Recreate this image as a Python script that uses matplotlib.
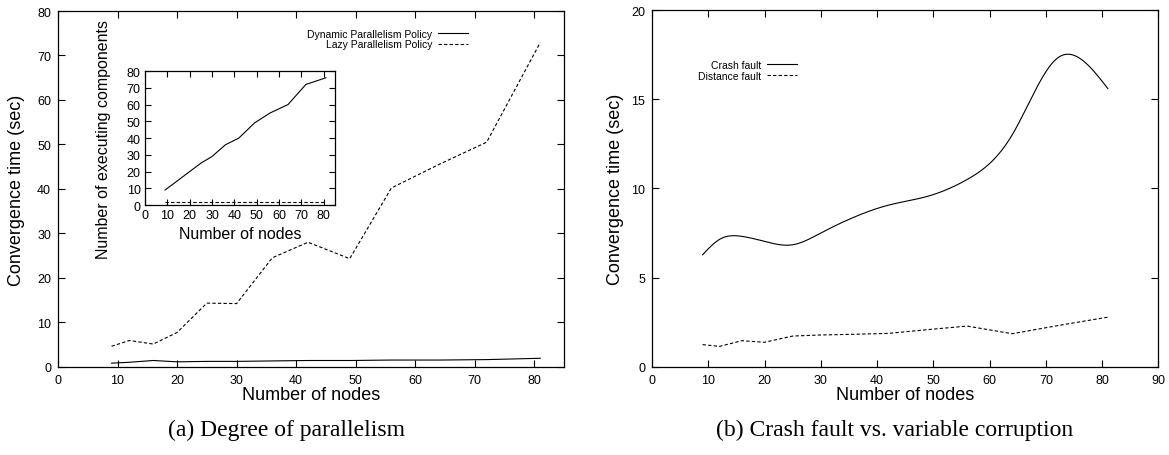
import numpy as np
import matplotlib
matplotlib.use('Agg')
import matplotlib.pyplot as plt

# number of nodes in every run
nodes = [9, 12, 16, 20, 25, 30, 36, 42, 49, 56, 64, 72, 81]

# (a) degree of parallelism
dynamic_time = [0.8, 1.0, 1.4, 1.1, 1.2, 1.2, 1.3, 1.4, 1.4, 1.5, 1.5, 1.6, 1.9]
lazy_time = [4.6, 5.9, 5.1, 7.7, 14.3, 14.2, 24.5, 28.0, 24.3, 40.2, 45.5, 50.5, 72.9]
dynamic_components = [9, 12, 16, 20, 25, 29, 36, 40, 49, 55, 60, 72, 76]
lazy_components = [2, 2, 2, 2, 2, 2, 2, 2, 2, 2, 2, 2, 2]

# (b) crash fault vs. variable corruption
crash_time = [6.28, 7.14, 7.31, 7.03, 6.84, 7.5, 8.4, 9.06, 9.56, 10.5, 13.0, 17.3, 15.6]
distance_time = [1.24, 1.14, 1.46, 1.37, 1.72, 1.78, 1.82, 1.87, 2.08, 2.28, 1.85, 2.3, 2.78]

plt.rcParams['font.family'] = ['Liberation Sans', 'DejaVu Sans']
plt.rcParams['lines.linewidth'] = 0.8
plt.rcParams['axes.linewidth'] = 0.9

DASH = (3, 2)


def csplines(x, y, n=400):
    # natural cubic spline, like gnuplot's "smooth csplines"
    x = np.asarray(x, float)
    y = np.asarray(y, float)
    k = len(x)
    h = np.diff(x)
    A = np.zeros((k, k))
    r = np.zeros(k)
    A[0, 0] = A[-1, -1] = 1
    for i in range(1, k - 1):
        A[i, i - 1] = h[i - 1]
        A[i, i] = 2 * (h[i - 1] + h[i])
        A[i, i + 1] = h[i]
        r[i] = 6 * ((y[i + 1] - y[i]) / h[i] - (y[i] - y[i - 1]) / h[i - 1])
    m = np.linalg.solve(A, r)
    xs = np.linspace(x[0], x[-1], n)
    idx = np.clip(np.searchsorted(x, xs) - 1, 0, k - 2)
    t = xs - x[idx]
    hi = h[idx]
    a = y[idx]
    b = (y[idx + 1] - y[idx]) / hi - hi * (2 * m[idx] + m[idx + 1]) / 6
    c = m[idx] / 2
    d = (m[idx + 1] - m[idx]) / (6 * hi)
    return xs, a + b * t + c * t ** 2 + d * t ** 3


def gnuplot_axes(ax, size=9):
    ax.tick_params(direction='in', top=True, right=True, length=5, width=0.8,
                   labelsize=size, pad=5)


fig = plt.figure(figsize=(11.69, 4.56), dpi=100)

# left panel
ax1 = fig.add_axes([0.0496, 0.1936, 0.4329, 0.78])
ax1.plot(nodes, dynamic_time, color='black', label='Dynamic Parallelism Policy')
ax1.plot(nodes, lazy_time, color='black', dashes=DASH, label='Lazy Parallelism Policy')
ax1.set_xlim(0, 85)
ax1.set_ylim(0, 80)
ax1.set_xticks(range(0, 81, 10))
ax1.set_yticks(range(0, 81, 10))
gnuplot_axes(ax1)
ax1.set_xlabel('Number of nodes', fontsize=13)
ax1.set_ylabel('Convergence time (sec)', fontsize=13)
ax1.xaxis.set_label_coords(0.5, -0.054)
ax1.yaxis.set_label_coords(-0.065, 0.5)
ax1.legend(loc='upper right', bbox_to_anchor=(0.81, 0.95), frameon=False,
           markerfirst=False, fontsize=7.5, handlelength=2.9, handletextpad=0.5,
           labelspacing=0.05, borderpad=0, borderaxespad=0)

# inset
ins = fig.add_axes([0.124, 0.548, 0.1625, 0.294])
ins.plot(nodes, dynamic_components, color='black')
ins.plot(nodes, lazy_components, color='black', dashes=DASH)
ins.set_xlim(0, 85)
ins.set_ylim(0, 80)
ins.set_xticks(range(0, 81, 10))
ins.set_yticks(range(0, 81, 10))
gnuplot_axes(ins)
ins.tick_params(length=4, pad=3)
ins.set_xlabel('Number of nodes', fontsize=11.5)
ins.set_ylabel('Number of executing components', fontsize=11.5)
ins.xaxis.set_label_coords(0.5, -0.157)
ins.yaxis.set_label_coords(-0.178, 0.5)

# right panel
ax2 = fig.add_axes([0.5577, 0.1936, 0.4333, 0.782])
sx, sy = csplines(nodes, crash_time)
ax2.plot(sx, sy, color='black', label='Crash fault')
ax2.plot(nodes, distance_time, color='black', dashes=DASH, label='Distance fault')
ax2.set_xlim(0, 90)
ax2.set_ylim(0, 20)
ax2.set_xticks(range(0, 91, 10))
ax2.set_yticks(range(0, 21, 5))
gnuplot_axes(ax2)
ax2.set_xlabel('Number of nodes', fontsize=13)
ax2.set_ylabel('Convergence time (sec)', fontsize=13)
ax2.xaxis.set_label_coords(0.5, -0.054)
ax2.yaxis.set_label_coords(-0.055, 0.5)
ax2.legend(loc='upper right', bbox_to_anchor=(0.286, 0.86), frameon=False,
           markerfirst=False, fontsize=7.5, handlelength=2.9, handletextpad=0.5,
           labelspacing=0.05, borderpad=0, borderaxespad=0)

fig.text(0.245, 0.057, '(a) Degree of parallelism', family='Liberation Serif',
         fontsize=17, ha='center', va='center')
fig.text(0.765, 0.057, '(b) Crash fault vs. variable corruption', family='Liberation Serif',
         fontsize=17, ha='center', va='center')

fig.savefig('out.png', dpi=100)
